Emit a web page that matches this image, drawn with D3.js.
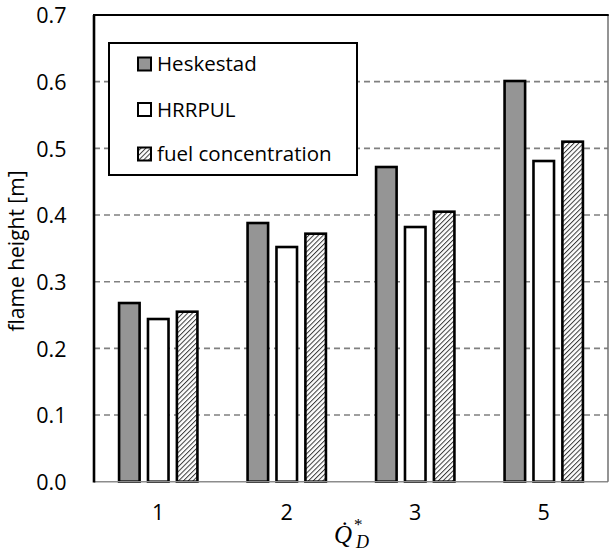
<!DOCTYPE html>
<html>
<head>
<meta charset="utf-8">
<script src="https://cdn.jsdelivr.net/npm/d3@7"></script>
<style>
  html, body { margin: 0; padding: 0; background: #fff; }
  svg { display: block; }
</style>
</head>
<body>
<svg id="chart" width="610" height="551"></svg>
<script>
// ---- data ----
const categories = ["1", "2", "3", "5"];
const seriesNames = ["Heskestad", "HRRPUL", "fuel concentration"];
const heskestad = [0.268, 0.388, 0.472, 0.601];
const hrrpul = [0.244, 0.352, 0.382, 0.481];
const fuelConcentration = [0.255, 0.372, 0.405, 0.510];
const yTicks = [0.0, 0.1, 0.2, 0.3, 0.4, 0.5, 0.6, 0.7];
const yLabel = "flame height [m]";

const seriesValues = [heskestad, hrrpul, fuelConcentration];

(function () {
// ---- layout ----
const svg = d3.select("#chart");
const pLeft = 94, pRight = 608, pTop = 15, pBottom = 481.7;

const y = d3.scaleLinear().domain([0, 0.7]).range([pBottom, pTop]);
const x0 = d3.scaleBand().domain(categories).range([pLeft, pRight])
  .paddingInner(0.37).paddingOuter(0.185);
const x1 = d3.scaleBand().domain(seriesNames).range([0, x0.bandwidth()])
  .paddingInner(0.2).paddingOuter(0);

// hatch pattern
const defs = svg.append("defs");
const pat = defs.append("pattern")
  .attr("id", "hatch").attr("patternUnits", "userSpaceOnUse")
  .attr("width", 3.4).attr("height", 3.4)
  .attr("patternTransform", "rotate(45)");
pat.append("rect").attr("width", 3.4).attr("height", 3.4).attr("fill", "#fff");
pat.append("line").attr("x1", 0).attr("y1", 0).attr("x2", 0).attr("y2", 3.4)
  .attr("stroke", "#3a3a3a").attr("stroke-width", 2.0);

const fills = {
  "Heskestad": "#959595",
  "HRRPUL": "#ffffff",
  "fuel concentration": "url(#hatch)"
};

// gridlines
const gridTicks = yTicks.filter(t => t > 0 && t < 0.7);
svg.append("g").selectAll("line").data(gridTicks).join("line")
  .attr("x1", pLeft).attr("x2", pRight)
  .attr("y1", d => y(d)).attr("y2", d => y(d))
  .attr("stroke", "#808080").attr("stroke-width", 1.6)
  .attr("stroke-dasharray", "6,4");

// bars
const data = [];
categories.forEach((c, i) => {
  seriesNames.forEach((s, j) => {
    data.push({ cat: c, series: s, value: seriesValues[j][i] });
  });
});
svg.append("g").selectAll("rect").data(data).join("rect")
  .attr("x", d => x0(d.cat) + x1(d.series) + 1.3)
  .attr("y", d => y(d.value))
  .attr("width", x1.bandwidth() - 2.6)
  .attr("height", d => pBottom - y(d.value))
  .attr("fill", d => fills[d.series])
  .attr("stroke", "#000").attr("stroke-width", 2.6);

// frame
svg.append("line").attr("x1", pLeft).attr("x2", pRight).attr("y1", pBottom).attr("y2", pBottom)
  .attr("stroke", "#8c8c8c").attr("stroke-width", 1.6);
svg.append("line").attr("x1", pRight).attr("x2", pRight).attr("y1", pTop).attr("y2", pBottom)
  .attr("stroke", "#707070").attr("stroke-width", 1.5);
svg.append("line").attr("x1", pLeft - 1).attr("x2", pRight + 0.75).attr("y1", pTop).attr("y2", pTop)
  .attr("stroke", "#000").attr("stroke-width", 2);
svg.append("line").attr("x1", pLeft).attr("x2", pLeft).attr("y1", pTop).attr("y2", pBottom + 0.8)
  .attr("stroke", "#000").attr("stroke-width", 2.6);

// y axis tick labels
const yAxis = d3.axisLeft(y).tickValues(yTicks).tickFormat(d3.format(".1f")).tickSize(0).tickPadding(0);
const gy = svg.append("g").attr("transform", `translate(66.5,0)`).call(yAxis);
gy.select(".domain").remove();
gy.selectAll("text")
  .attr("font-family", "'Open Sans', sans-serif").attr("font-size", 21.5)
  .attr("fill", "#000").attr("dy", "0.36em");

// x axis tick labels
const xAxis = d3.axisBottom(x0).tickSize(0).tickPadding(0);
const gx = svg.append("g").attr("transform", `translate(0,${pBottom})`).call(xAxis);
gx.select(".domain").remove();
gx.selectAll("text")
  .attr("font-family", "'Open Sans', sans-serif").attr("font-size", 21.5)
  .attr("fill", "#000").attr("dy", null).attr("y", 38.5);

// y axis title
svg.append("text")
  .attr("transform", "translate(24,251) rotate(-90)")
  .attr("text-anchor", "middle")
  .attr("font-family", "'Open Sans', sans-serif").attr("font-size", 21)
  .attr("fill", "#000")
  .text(yLabel);

// x axis title: Q-dot star sub D
const xt = svg.append("text")
  .attr("font-family", "'Liberation Serif', 'Times New Roman', serif")
  .attr("font-style", "italic").attr("fill", "#000");
xt.append("tspan").attr("x", 334).attr("y", 543).attr("font-size", 25).text("Q\u0307");
xt.append("tspan").attr("x", 354).attr("y", 530).attr("font-size", 17).attr("font-style", "normal").text("*");
xt.append("tspan").attr("x", 356).attr("y", 548).attr("font-size", 18).text("D");

// legend
const lg = svg.append("g");
lg.append("rect").attr("x", 109).attr("y", 43).attr("width", 248).attr("height", 132)
  .attr("fill", "#fff").attr("stroke", "#000").attr("stroke-width", 2);
const legendY = [64, 109.5, 154];
seriesNames.forEach((s, i) => {
  lg.append("rect").attr("x", 138).attr("y", legendY[i] - 6.5).attr("width", 13).attr("height", 13)
    .attr("fill", fills[s]).attr("stroke", "#000").attr("stroke-width", 2);
  lg.append("text").attr("x", 157).attr("y", legendY[i]).attr("dy", "0.36em")
    .attr("font-family", "'Open Sans', sans-serif").attr("font-size", 20.5)
    .attr("fill", "#000").text(s);
});
})();
</script>
</body>
</html>
